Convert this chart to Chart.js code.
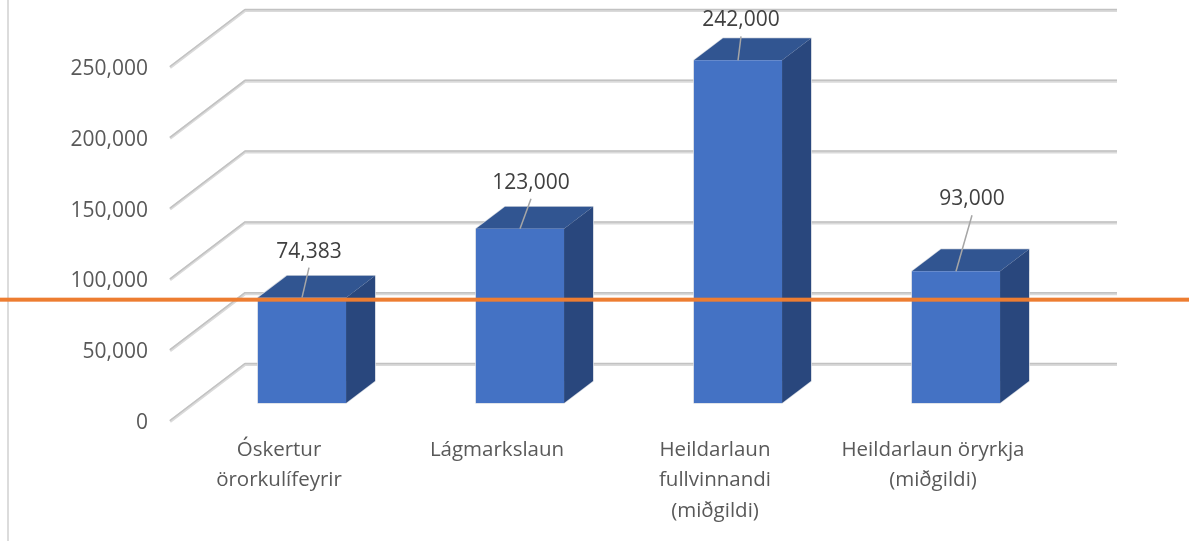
<!DOCTYPE html>
<html>
<head>
<meta charset="utf-8">
<style>
  html, body { margin: 0; padding: 0; background: #fff; }
  canvas { display: block; }
</style>
<script src="https://cdn.jsdelivr.net/npm/chart.js@4"></script>
</head>
<body>
<canvas id="chart" width="1189" height="541"></canvas>
<script>
const categories = [
    ['Óskertur', 'örorkulífeyrir'],
    ['Lágmarkslaun'],
    ['Heildarlaun', 'fullvinnandi', '(miðgildi)'],
    ['Heildarlaun öryrkja', '(miðgildi)']
];
const values = [74383, 123000, 242000, 93000];
const referenceValue = 74383;
const axisMax = 250000;
const axisStep = 50000;

// 3d look, all in px
const wallLift = -2;
const wallDepth = { x: 75, y: -57 };
const barShift = { x: 23, y: -20 };
const barDepth = { x: 29, y: -22 };
// orange line sits a little under the first bar's top in the original
const referenceNudge = 2;
// where each leader line ends, from the middle of the bar's top edge
const leaders = [[7, -30], [11, -30], [3, -24], [16, -56]];

const fontName = '"Open Sans", sans-serif';
const fmt = v => v.toLocaleString('en-US');

function poly(ctx, pts, color) {
    ctx.fillStyle = color;
    ctx.beginPath();
    pts.forEach((p, i) => i ? ctx.lineTo(p[0], p[1]) : ctx.moveTo(p[0], p[1]));
    ctx.closePath();
    ctx.fill();
}

const fake3d = {
    id: 'fake3d',
    beforeDatasetsDraw(chart) {
        const ctx = chart.ctx, area = chart.chartArea, y = chart.scales.y;
        // page edge on the left
        ctx.fillStyle = '#dcdcdc';
        ctx.fillRect(7, 0, 2, chart.height);
        // walls
        ctx.lineJoin = 'round';
        y.ticks.forEach(t => {
            const py = y.getPixelForValue(t.value) + wallLift;
            const path = dy => {
                ctx.beginPath();
                ctx.moveTo(area.left, py + dy);
                ctx.lineTo(area.left + wallDepth.x, py + wallDepth.y + dy);
                ctx.lineTo(area.right + wallDepth.x, py + wallDepth.y + dy);
                ctx.stroke();
            };
            ctx.strokeStyle = '#dadada';
            ctx.lineWidth = 3;
            path(0.5);
            ctx.strokeStyle = '#c2c2c2';
            ctx.lineWidth = 1.5;
            path(-0.5);
        });
        // sides of the bars, the front is drawn by chart.js
        ctx.save();
        ctx.translate(barShift.x, barShift.y);
        chart.getDatasetMeta(0).data.forEach(bar => {
            const l = bar.x - bar.width / 2, r = bar.x + bar.width / 2;
            const dx = barDepth.x, dy = barDepth.y;
            // faint light edge round the whole block
            ctx.strokeStyle = '#d5dae2';
            ctx.lineWidth = 1.5;
            ctx.beginPath();
            ctx.moveTo(l, bar.base);
            ctx.lineTo(l, bar.y);
            ctx.lineTo(l + dx, bar.y + dy);
            ctx.lineTo(r + dx, bar.y + dy);
            ctx.lineTo(r + dx, bar.base + dy);
            ctx.lineTo(r, bar.base);
            ctx.closePath();
            ctx.stroke();
            poly(ctx, [[l, bar.y], [l + dx, bar.y + dy], [r + dx, bar.y + dy], [r, bar.y]], '#315591');
            poly(ctx, [[r, bar.y], [r + dx, bar.y + dy], [r + dx, bar.base + dy], [r, bar.base]], '#29477d');
        });
    },
    afterDatasetsDraw(chart) {
        const ctx = chart.ctx, y = chart.scales.y;
        // still translated from beforeDatasetsDraw
        chart.getDatasetMeta(0).data.forEach((bar, i) => {
            const ex = bar.x + leaders[i][0], ey = bar.y + leaders[i][1];
            ctx.strokeStyle = '#a6a6a6';
            ctx.lineWidth = 1.5;
            ctx.beginPath();
            ctx.moveTo(bar.x, bar.y);
            ctx.lineTo(ex, ey);
            ctx.stroke();
            ctx.fillStyle = '#404040';
            ctx.font = '21px ' + fontName;
            ctx.textAlign = 'center';
            ctx.textBaseline = 'middle';
            ctx.fillText(fmt(values[i]), ex, ey - 16);
        });
        ctx.restore();
        // orange reference line, in the plane of the bars
        ctx.fillStyle = '#ed7d31';
        ctx.fillRect(0, y.getPixelForValue(referenceValue) + barShift.y + referenceNudge - 2, chart.width, 4);
    }
};

onload = () => {
    const ctx = document.getElementById('chart').getContext('2d');
    new Chart(ctx, {
        type: 'bar',
        data: {
            labels: categories,
            datasets: [{
                data: values,
                backgroundColor: '#4472c4',
                barPercentage: 0.404,
                categoryPercentage: 1,
                clip: false
            }]
        },
        options: {
            responsive: false,
            animation: false,
            layout: { padding: { left: 0, right: 147, top: 69, bottom: 0 } },
            plugins: { legend: { display: false }, tooltip: { enabled: false } },
            scales: {
                x: {
                    border: { display: false },
                    grid: { display: false, drawTicks: false },
                    afterFit(s) { s.height = 118; },
                    ticks: {
                        autoSkip: false,
                        maxRotation: 0,
                        padding: 12,
                        color: '#595959',
                        font: { family: fontName, size: 20.5, lineHeight: 1.48 }
                    }
                },
                y: {
                    min: 0,
                    max: axisMax,
                    border: { display: false },
                    grid: { display: false, drawTicks: false },
                    afterFit(s) { s.width = 170; },
                    ticks: {
                        stepSize: axisStep,
                        padding: 22,
                        color: '#595959',
                        font: { family: fontName, size: 21 },
                        callback: v => fmt(v)
                    }
                }
            }
        },
        plugins: [fake3d]
    });
};
</script>
</body>
</html>
